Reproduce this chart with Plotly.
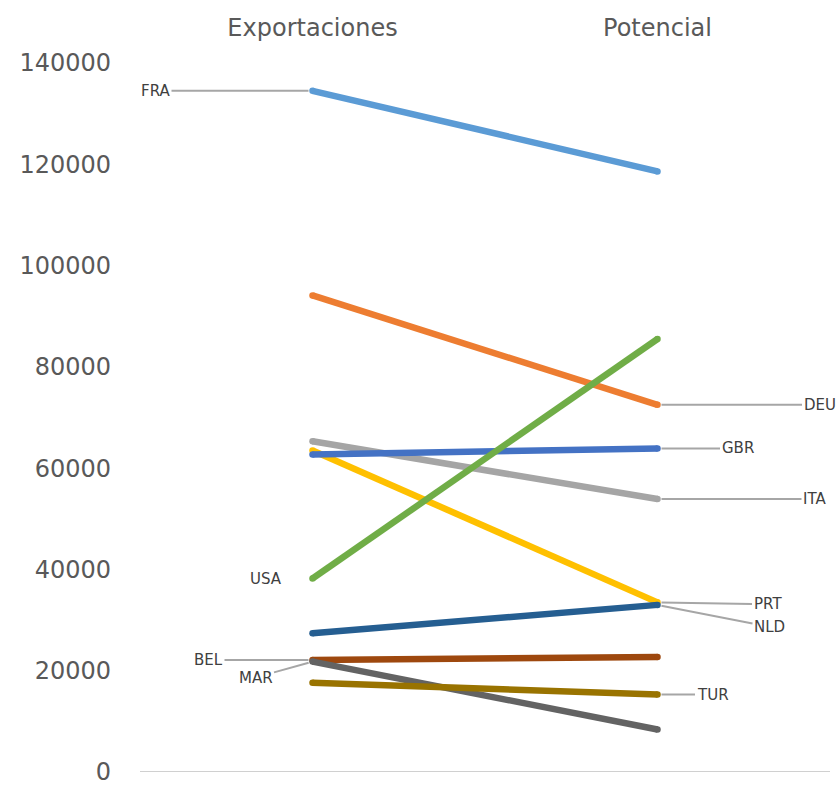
import plotly.graph_objects as go

# Slope chart: exports vs. potential by destination country
stages = ["Exportaciones", "Potencial"]
countries = ["FRA", "DEU", "ITA", "PRT", "GBR", "USA", "NLD", "BEL", "MAR", "TUR"]
exportaciones = [134500, 94100, 65300, 63500, 62700, 38200, 27400, 22100, 21800, 17600]
potencial = [118600, 72500, 53900, 33500, 63900, 85500, 33000, 22700, 8400, 15300]
colors = ["#5B9BD5", "#ED7D31", "#A5A5A5", "#FFC000", "#4472C4",
          "#70AD47", "#255E91", "#9E480E", "#636363", "#997300"]
y_ticks = [0, 20000, 40000, 60000, 80000, 100000, 120000, 140000]

# label placement: (which end, dx px, dy px, leader line?)
label_pos = {
    "FRA": (0, -157, 0, True),
    "USA": (0, -47, 0, False),
    "BEL": (0, -104, 0, True),
    "MAR": (0, -57, 16, True),
    "DEU": (1, 162, 0, True),
    "GBR": (1, 80, 0, True),
    "ITA": (1, 157, 0, True),
    "PRT": (1, 110, 2, True),
    "NLD": (1, 112, 22, True),
    "TUR": (1, 55, 0, True),
}

fig = go.Figure()
for name, a, b, c in zip(countries, exportaciones, potencial, colors):
    fig.add_trace(go.Scatter(
        x=[0, 1], y=[a, b], mode="lines+markers", name=name,
        line=dict(color=c, width=6.5),
        marker=dict(color=c, size=6.5, line=dict(width=0)),
        hoverinfo="name+y", showlegend=False,
    ))

label_font = dict(family="DejaVu Sans", size=15, color="#404040")
annotations = []
for i, name in enumerate(countries):
    end, dx, dy, leader = label_pos[name]
    yv = exportaciones[i] if end == 0 else potencial[i]
    if leader:
        annotations.append(dict(
            x=end, y=yv, xref="x", yref="y", text=name,
            showarrow=True, arrowhead=0, arrowwidth=2, arrowcolor="#A6A6A6",
            ax=dx, ay=dy, standoff=4, font=label_font,
        ))
    else:
        annotations.append(dict(
            x=end, y=yv, xref="x", yref="y", text=name, showarrow=False,
            xshift=dx, font=label_font,
        ))

axis_font = dict(family="DejaVu Sans", size=24, color="#595959")

fig.update_layout(
    width=840, height=787,
    margin=dict(l=140, r=10, t=63, b=15),
    paper_bgcolor="white", plot_bgcolor="white",
    annotations=annotations,
    shapes=[dict(type="line", xref="paper", yref="y", x0=0, x1=1, y0=0, y1=0,
                 line=dict(color="#D0D0D0", width=2), layer="below")],
    xaxis=dict(
        range=[-0.5, 1.5], tickvals=[0, 1], ticktext=stages, side="top",
        showgrid=False, zeroline=False, showline=False, ticks="",
        ticklabelstandoff=21, tickfont=axis_font, automargin=False,
    ),
    yaxis=dict(
        range=[0, 140000], tickvals=y_ticks, tickformat="d",
        showgrid=False, zeroline=False, showline=False, ticks="",
        ticklabelstandoff=28, ticklabeloverflow="allow", tickfont=axis_font,
        automargin=False,
    ),
)

fig.write_html("out.html")
